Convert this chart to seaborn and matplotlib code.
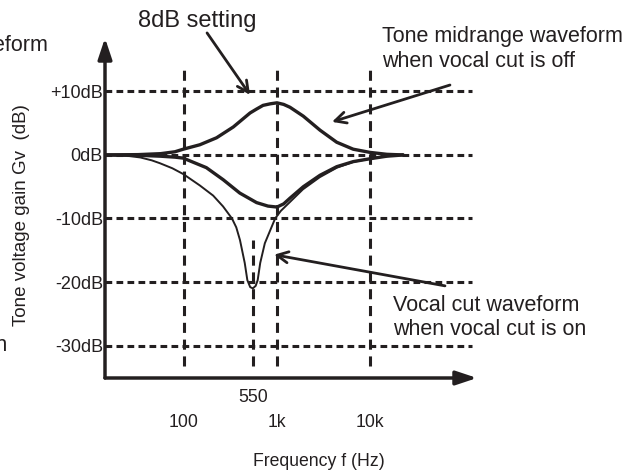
import matplotlib
matplotlib.use('Agg')
import matplotlib.pyplot as plt
import seaborn as sns

# Frequency response data (Hz, dB)
freq_boost = [14, 32, 56, 80, 98, 148, 224, 339, 513, 600, 708, 850, 1000, 1180, 1380, 1919, 2900,
              4383, 6607, 10000, 15136, 22650]
gain_boost = [0, 0.05, 0.2, 0.5, 0.9, 1.6, 2.7, 4.4, 6.6, 7.2, 7.8, 8.05, 8.2, 7.95, 7.5, 6.1, 3.9,
              2.0, 0.9, 0.4, 0.1, 0]

freq_cut = [14, 32, 56, 80, 98, 174, 264, 398, 603, 800, 1000, 1180, 1380, 1919, 2900, 4383, 6607,
            10000, 15136, 22650]
gain_cut = [0, -0.05, -0.2, -0.35, -0.5, -2.0, -3.9, -6.0, -7.5, -8.05, -8.2, -7.7, -6.8, -5.0, -3.2,
            -1.85, -1.05, -0.6, -0.2, 0]

freq_vocal = [14, 25, 34, 45, 55, 75, 98, 148, 206, 263, 328, 365, 400, 450, 480, 515, 550, 590, 620,
              660, 740, 955, 1100, 1380, 1905, 2884, 4416, 6607, 10000, 15136, 22650]
gain_vocal = [0, -0.15, -0.4, -0.85, -1.3, -2.1, -3.0, -4.8, -6.4, -8.1, -10.0, -11.4, -13.4, -17.0,
              -19.7, -20.8, -21.0, -20.6, -19.7, -17.0, -13.9, -10.0, -8.8, -7.4, -5.4, -3.5, -2.0,
              -1.1, -0.6, -0.2, 0]

level_db = [10, 0, -10, -20, -30]
level_labels = ['+10dB', '0dB', '-10dB', '-20dB', '-30dB']
decade_freqs = [100, 1000, 10000]
decade_labels = ['100', '1k', '10k']
marker_freq = [550]
marker_labels = ['550']

ink = '#231f20'

sns.set_theme(style='white')
plt.rcParams['font.family'] = ['Liberation Sans', 'DejaVu Sans']

W, H = 640, 471
fig = plt.figure(figsize=(W / 100, H / 100), dpi=100)
ax = fig.add_axes([105 / W, 1 - 378 / H, 372 / W, 340 / H])
ax.set_xscale('log')
ax.set_xlim(14.15, 141400)
ax.set_ylim(-35.1, 18.4)
for s in ax.spines.values():
    s.set_visible(False)

# dashed reference grid
ax.hlines(level_db, 14.15, 125000, colors=ink, lw=2.2, linestyles=[(0, (2.2, 1.4))])
ax.vlines(decade_freqs, -33.2, 13.7, colors=ink, lw=2.2, linestyles=[(0, (3.3, 2.2))])
ax.vlines(marker_freq, -33.2, -13.4, colors=ink, lw=2.2, linestyles=[(0, (3.3, 2.2))])

# curves
sns.lineplot(x=freq_boost, y=gain_boost, ax=ax, color=ink, lw=2.4, sort=False, estimator=None)
sns.lineplot(x=freq_cut, y=gain_cut, ax=ax, color=ink, lw=2.4, sort=False, estimator=None)
sns.lineplot(x=freq_vocal, y=gain_vocal, ax=ax, color=ink, lw=1.4, sort=False, estimator=None)

# ticks
ax.set_yticks(level_db, level_labels)
ax.tick_params(axis='y', length=0, pad=1.5, labelsize=13, labelcolor=ink)
ax.set_xticks(decade_freqs, decade_labels)
ax.set_xticks(marker_freq, marker_labels, minor=True)
ax.tick_params(axis='x', which='major', length=0, pad=26, labelsize=12.7, labelcolor=ink)
ax.tick_params(axis='x', which='minor', length=0, pad=8, labelsize=12.7, labelcolor=ink)
ax.set_xlabel('')
ax.set_ylabel('')

# axis arrows
axis_arrow = dict(arrowstyle='-|>,head_length=0.9,head_width=0.3', lw=2.5, color=ink,
                  shrinkA=0, shrinkB=0, mutation_scale=14)
ax.annotate('', xy=(0, 1), xytext=(0, 0), xycoords='axes fraction', arrowprops=axis_arrow)
ax.annotate('', xy=(1, 0), xytext=(0, 0), xycoords='axes fraction', arrowprops=axis_arrow)

# labels
fig.text(319 / W, 1 - 462 / H, 'Frequency f (Hz)', ha='center', va='center', fontsize=12.7, color=ink)
fig.text(22 / W, 1 - 215 / H, 'Tone voltage gain Gv  (dB)', ha='center', va='center',
         rotation=90, fontsize=13.5, color=ink)

# annotations (va='baseline' pins the last line)
note_arrow = dict(arrowstyle='->,head_length=0.4,head_width=0.2', lw=2, color=ink,
                  shrinkA=0, shrinkB=0, mutation_scale=20)
fig.text(197 / W, 1 - 21 / H, '8dB setting', ha='center', va='center', fontsize=17, color=ink)
ax.annotate('', xy=(513, 9.45), xytext=(177, 19.2), arrowprops=note_arrow, annotation_clip=False)

fig.text(382 / W, 1 - 67 / H, 'Tone midrange waveform\nwhen vocal cut is off', ha='left',
         va='baseline', fontsize=15.5, color=ink, linespacing=1.25)
ax.annotate('', xy=(3900, 5.2), xytext=(72400, 11.0), arrowprops=note_arrow, annotation_clip=False)

fig.text(393 / W, 1 - 335 / H, 'Vocal cut waveform\nwhen vocal cut is on', ha='left',
         va='baseline', fontsize=15.5, color=ink, linespacing=1.2)
ax.annotate('', xy=(929, -15.7), xytext=(64000, -20.6), arrowprops=note_arrow, annotation_clip=False)

# text from the neighbouring figure, clipped at the left edge
fig.text(-193 / W, 1 - 76 / H, 'Tone midrange waveform\nwhen vocal cut is off', ha='left',
         va='baseline', fontsize=15.5, color=ink, linespacing=1.25)
fig.text(-186 / W, 1 - 351 / H, 'Vocal cut waveform\nwhen vocal cut is on', ha='left',
         va='baseline', fontsize=15.5, color=ink, linespacing=1.2)

fig.savefig('out.png', dpi=100)
